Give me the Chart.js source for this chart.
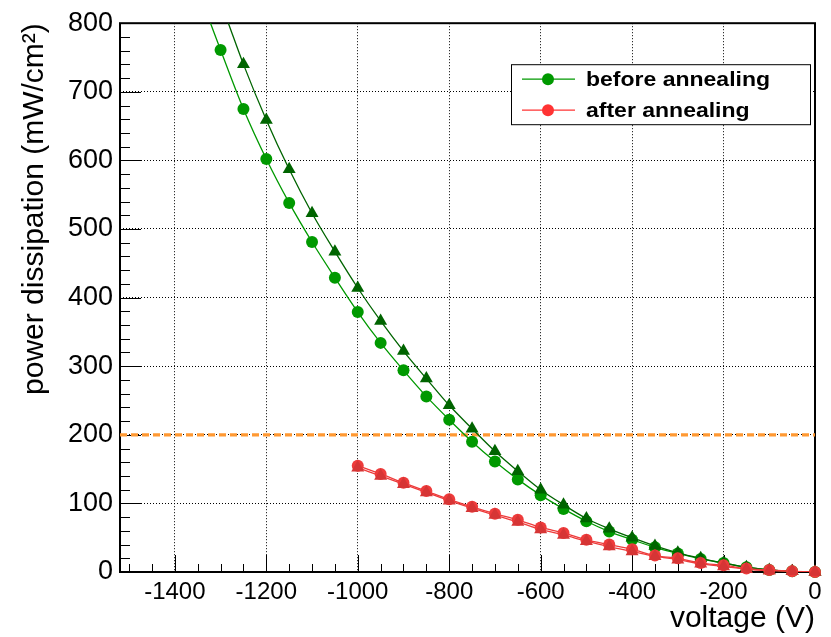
<!DOCTYPE html>
<html>
<head>
<meta charset="utf-8">
<script src="https://cdn.jsdelivr.net/npm/chart.js@4"></script>
<style>
  html, body { margin: 0; padding: 0; background: #fff; }
</style>
</head>
<body>
<canvas id="powerChart" width="831" height="637"></canvas>
<script>
// data (voltage in V, power in mW/cm2)
const voltsBeforeCircle = [-1300, -1250, -1200, -1150, -1100, -1050, -1000, -950, -900, -850, -800, -750, -700,
  -650, -600, -550, -500, -450, -400, -350, -300, -250, -200, -150, -100, -50, 0];
const powerBeforeCircle = [761, 675, 602, 538, 481, 429, 379, 334, 294, 256, 222, 190, 161,
  135, 112, 92, 74, 59, 47, 36, 27, 19, 13, 7, 3, 1, 0];

const voltsBeforeTri = [-1250, -1200, -1150, -1100, -1050, -1000, -950, -900, -850, -800, -750, -700,
  -650, -600, -550, -500, -450, -400, -350, -300, -250, -200, -150, -100, -50, 0];
const powerBeforeTri = [740, 659, 587, 523, 467, 414, 366, 322, 282, 243, 209, 176,
  147, 120, 98, 78, 63, 50, 38, 28, 20, 13, 7, 3, 1, 0];

const voltsAfter = [-1000, -950, -900, -850, -800, -750, -700, -650, -600, -550, -500,
  -450, -400, -350, -300, -250, -200, -150, -100, -50, 0];
const powerAfterCircle = [155, 143, 130, 118, 106, 95, 85, 76, 65, 57, 47,
  40, 33, 24, 20, 13, 10, 5, 3, 1, 0];
const powerAfterTri = [152, 140, 128, 116, 104, 93, 83, 73, 62, 54, 45,
  37, 30, 23, 18, 12, 8, 4, 2, 1, 0];

// where the fit curves leave the top of the frame
const fitTopBeforeCircle = { x: -1322, y: 800 };
const fitTopBeforeTri = { x: -1283, y: 800 };

const powerLimit = 200;
const xRange = [-1520, 0];
const yRange = [0, 800];
const xTickValues = [-1400, -1200, -1000, -800, -600, -400, -200, 0];

const legendLabels = ["before annealing", "after annealing"];

const GREEN = "#009900";
const DARK_GREEN = "#006400";
const RED = "#ee3b3b";
const DARK_RED = "#d63535";
const ORANGE = "#ff9933";

function points(xs, ys) {
  return xs.map((v, i) => ({ x: v, y: ys[i] }));
}

function curve(data, color, order) {
  return {
    data: data,
    borderColor: color,
    borderWidth: 1.3,
    pointRadius: 0,
    cubicInterpolationMode: "monotone",
    order: order,
  };
}

function markers(data, color, style, radius, order) {
  return {
    data: data,
    showLine: false,
    pointStyle: style,
    pointRadius: radius,
    pointBackgroundColor: color,
    pointBorderColor: color,
    pointBorderWidth: 0,
    clip: false,
    order: order,
  };
}

// inside ticks + frame, like the original plot
const frameTicks = {
  id: "frameTicks",
  beforeDatasetsDraw(chart) {
    const { ctx, chartArea: a, scales: { x, y } } = chart;
    ctx.save();
    ctx.strokeStyle = "#000";
    ctx.lineWidth = 1;
    ctx.beginPath();
    for (let v = -1500; v <= 0; v += 50) {
      const px = Math.round(x.getPixelForValue(v)) + 0.5;
      const len = v % 200 === 0 ? 17 : 8;
      ctx.moveTo(px, a.bottom);
      ctx.lineTo(px, a.bottom - len);
    }
    for (let v = 0; v <= 800; v += 20) {
      const py = Math.round(y.getPixelForValue(v)) + 0.5;
      const len = v % 100 === 0 ? 21 : 10;
      ctx.moveTo(a.left, py);
      ctx.lineTo(a.left + len, py);
    }
    ctx.stroke();
    ctx.lineWidth = 2;
    ctx.strokeRect(a.left, a.top, a.right - a.left, a.bottom - a.top);
    ctx.restore();
  },
};

const boxLegend = {
  id: "boxLegend",
  afterDraw(chart) {
    const { ctx, chartArea: a } = chart;
    const bx = a.right - 304, by = a.top + 41, bw = 299, bh = 60;
    ctx.save();
    ctx.fillStyle = "#fff";
    ctx.fillRect(bx, by, bw, bh);
    ctx.strokeStyle = "#000";
    ctx.lineWidth = 1;
    ctx.strokeRect(bx + 0.5, by + 0.5, bw, bh);
    const colors = [GREEN, "#ff3333"];
    legendLabels.forEach((label, i) => {
      const ry = by + 15 + i * 31;
      ctx.strokeStyle = colors[i];
      ctx.lineWidth = 1.3;
      ctx.beginPath();
      ctx.moveTo(bx + 11, ry);
      ctx.lineTo(bx + 64, ry);
      ctx.stroke();
      ctx.fillStyle = colors[i];
      ctx.beginPath();
      ctx.arc(bx + 37, ry, 6, 0, Math.PI * 2);
      ctx.fill();
      ctx.fillStyle = "#000";
      ctx.font = "bold 20px 'Liberation Sans', Arial, sans-serif";
      ctx.textBaseline = "middle";
      ctx.save();
      ctx.translate(bx + 75, ry + 1);
      ctx.scale(1.15, 1);
      ctx.fillText(label, 0, 0);
      ctx.restore();
    });
    ctx.restore();
  },
};

const ctx = document.getElementById("powerChart").getContext("2d");

new Chart(ctx, {
  type: "line",
  data: {
    datasets: [
      {
        data: [{ x: xRange[0], y: powerLimit }, { x: xRange[1], y: powerLimit }],
        borderColor: ORANGE,
        borderWidth: 3.2,
        borderDash: [7, 4],
        pointRadius: 0,
        order: 20,
      },
      curve([fitTopBeforeCircle].concat(points(voltsBeforeCircle, powerBeforeCircle)), GREEN, 19),
      markers(points(voltsBeforeCircle, powerBeforeCircle), GREEN, "circle", 6, 18),
      curve([fitTopBeforeTri].concat(points(voltsBeforeTri, powerBeforeTri)), DARK_GREEN, 17),
      markers(points(voltsBeforeTri, powerBeforeTri), DARK_GREEN, "triangle", 7.5, 16),
      curve(points(voltsAfter, powerAfterCircle), RED, 15),
      markers(points(voltsAfter, powerAfterCircle), RED, "circle", 6, 14),
      curve(points(voltsAfter, powerAfterTri), RED, 13),
      markers(points(voltsAfter, powerAfterTri), DARK_RED, "triangle", 7.5, 12),
    ],
  },
  options: {
    responsive: false,
    animation: false,
    devicePixelRatio: 1,
    layout: { padding: { top: 16, right: 16, left: 0, bottom: 0 } },
    plugins: { legend: { display: false }, tooltip: { enabled: false } },
    scales: {
      x: {
        type: "linear",
        min: xRange[0],
        max: xRange[1],
        afterFit: (scale) => { scale.height = 65; },
        afterBuildTicks: (scale) => {
          scale.ticks = xTickValues.map((v) => ({ value: v }));
        },
        ticks: {
          padding: 6,
          color: "#000",
          maxRotation: 0,
          autoSkip: false,
          font: { family: "'Liberation Sans', Arial, sans-serif", size: 24 },
          callback: (v) => String(v),
        },
        grid: { color: "#000", lineWidth: 1, drawTicks: false },
        border: { display: false, dash: [1, 2] },
        title: {
          display: true,
          text: "voltage (V)",
          align: "end",
          color: "#000",
          padding: { top: 0, bottom: 0 },
          font: { family: "'Liberation Sans', Arial, sans-serif", size: 30 },
        },
      },
      y: {
        min: yRange[0],
        max: yRange[1],
        afterFit: (scale) => { scale.width = 120; },
        ticks: {
          stepSize: 100,
          padding: 7,
          color: "#000",
          font: { family: "'Liberation Sans', Arial, sans-serif", size: 27 },
          callback: (v) => String(v),
        },
        grid: { color: "#000", lineWidth: 1, drawTicks: false },
        border: { display: false, dash: [1, 2] },
        title: {
          display: true,
          text: "power dissipation (mW/cm²)",
          align: "end",
          color: "#000",
          padding: { top: 17, bottom: 0 },
          font: { family: "'Liberation Sans', Arial, sans-serif", size: 30 },
        },
      },
    },
  },
  plugins: [frameTicks, boxLegend],
});
</script>
</body>
</html>
